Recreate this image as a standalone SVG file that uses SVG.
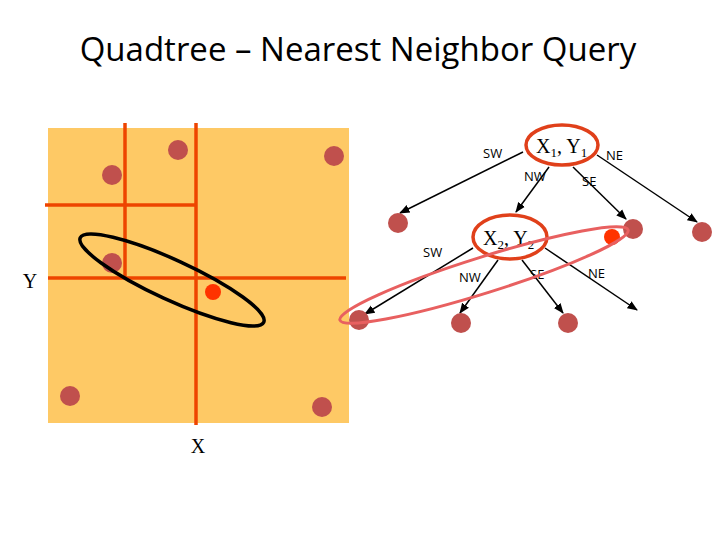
<svg xmlns="http://www.w3.org/2000/svg" width="720" height="540" viewBox="0 0 720 540">
<defs>
<style>
.pt{fill:#c0504d}
.q{fill:#ff3300}
.ln{stroke:#ee4400;stroke-width:3.5;fill:none}
.ar{stroke:#000;stroke-width:1.5;fill:none;marker-end:url(#ah)}
.lb{font-family:"Open Sans","Liberation Sans",sans-serif;font-size:13px;fill:#000}
.sf{font-family:"Liberation Serif",serif;font-size:20px;fill:#000}
.nd{fill:#fff;stroke:#e0401a;stroke-width:3.5}
</style>
<marker id="ah" viewBox="0 0 10 10" refX="9" refY="5" markerWidth="7" markerHeight="7" orient="auto"><path d="M0,1 L10,5 L0,9 z" fill="#000"/></marker>
</defs>
<rect width="720" height="540" fill="#fff"/>
<text x="358" y="61" text-anchor="middle" font-family="Open Sans, Liberation Sans, sans-serif" font-size="33" fill="#000">Quadtree – Nearest Neighbor Query</text>
<g id="space">
<rect x="48" y="128" width="301" height="295" fill="#fec965"/>
<line class="ln" x1="196" y1="123" x2="196" y2="425"/>
<line class="ln" x1="125" y1="123" x2="125" y2="279"/>
<line class="ln" x1="45" y1="205" x2="196" y2="205"/>
<line class="ln" x1="48" y1="278" x2="346" y2="278"/>
<circle class="pt" cx="178" cy="150" r="10"/>
<circle class="pt" cx="334" cy="156" r="10"/>
<circle class="pt" cx="112" cy="175" r="10"/>
<circle class="pt" cx="112" cy="263" r="10"/>
<circle class="pt" cx="70" cy="396" r="10"/>
<circle class="pt" cx="322" cy="407" r="10"/>
<circle class="q" cx="213" cy="292" r="8"/>
<ellipse cx="172" cy="280" rx="101" ry="20" transform="rotate(24.7 172 280)" fill="none" stroke="#000" stroke-width="3.5"/>
<text class="sf" x="30" y="288" text-anchor="middle" font-size="17">Y</text>
<text class="sf" x="198" y="453" text-anchor="middle" font-size="17">X</text>
</g>
<g id="connectors">
<line class="ar" x1="523" y1="152" x2="400" y2="213"/>
<line class="ar" x1="549" y1="167" x2="516" y2="212"/>
<line class="ar" x1="573" y1="167" x2="626" y2="219"/>
<line class="ar" x1="597" y1="155" x2="697" y2="222"/>
<line class="ar" x1="473" y1="248" x2="365" y2="314"/>
<line class="ar" x1="498" y1="260" x2="460" y2="313"/>
<line class="ar" x1="522" y1="260" x2="563" y2="313"/>
<line class="ar" x1="545" y1="248" x2="637" y2="310"/>
</g>
<g id="n1">
<ellipse class="nd" cx="562" cy="145" rx="36" ry="20"/>
<text class="sf" x="536" y="153">X<tspan font-size="13" dy="4">1</tspan><tspan dy="-4">, Y</tspan><tspan font-size="13" dy="4">1</tspan></text>
</g>
<g id="n2">
<ellipse class="nd" cx="510" cy="237" rx="37" ry="22"/>
<text class="sf" x="483" y="245">X<tspan font-size="13" dy="4">2</tspan><tspan dy="-4">, Y</tspan><tspan font-size="13" dy="4">2</tspan></text>
</g>
<g id="labels">
<text class="lb" x="483" y="158">SW</text>
<text class="lb" x="524" y="181">NW</text>
<text class="lb" x="582" y="186">SE</text>
<text class="lb" x="606" y="160">NE</text>
<text class="lb" x="423" y="257">SW</text>
<text class="lb" x="459" y="282">NW</text>
<text class="lb" x="530" y="279">SE</text>
<text class="lb" x="588" y="278">NE</text>
</g>
<g id="leaves">
<circle class="pt" cx="398" cy="223" r="10"/>
<circle class="pt" cx="633" cy="229" r="10"/>
<circle class="pt" cx="702" cy="232" r="10"/>
<circle class="pt" cx="359" cy="320" r="10"/>
<circle class="pt" cx="461" cy="323" r="10"/>
<circle class="pt" cx="568" cy="323" r="10"/>
<circle class="q" cx="612" cy="237" r="8"/>
</g>
<ellipse cx="484" cy="275" rx="151" ry="18" transform="rotate(-17.4 484 275)" fill="none" stroke="#e86060" stroke-width="3"/>
</svg>
